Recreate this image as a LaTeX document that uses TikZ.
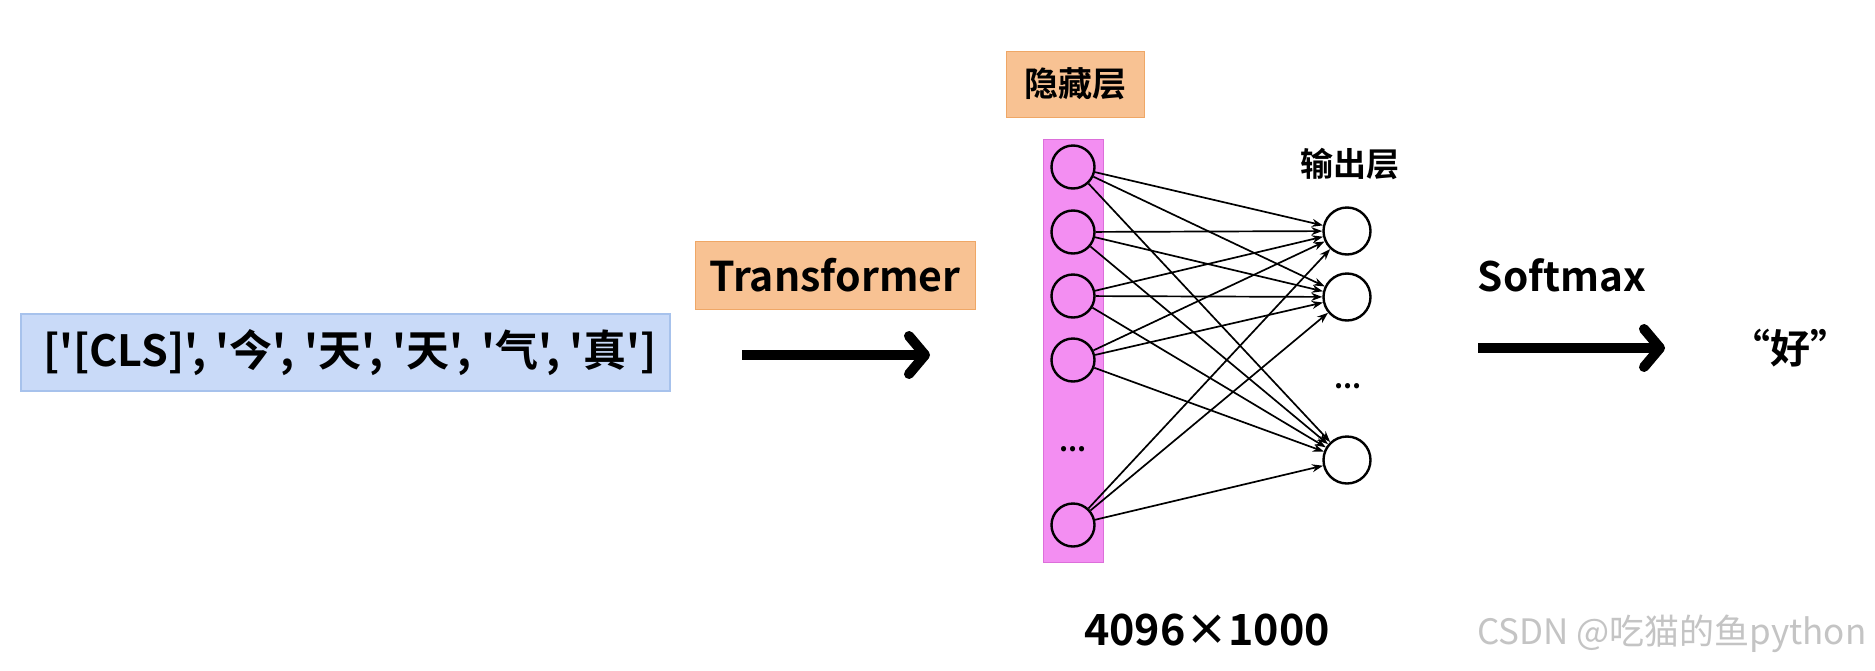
\documentclass[tikz,border=0pt]{standalone}
\usepackage{fontspec}
\defaultfontfeatures{}
\setmainfont{Noto Sans CJK SC}[Ligatures=TeXOff,BoldFont={Noto Sans CJK SC Bold},BoldFeatures={Ligatures=TeXOff}]
\usetikzlibrary{arrows.meta}
\definecolor{boxblue}{HTML}{C9DAF8}
\definecolor{boxblueline}{HTML}{A7C2EC}
\definecolor{boxorange}{HTML}{F8C293}
\definecolor{boxorangeline}{HTML}{EFA766}
\definecolor{hidpink}{HTML}{F38EF2}
\definecolor{hidpinkline}{HTML}{DC6FDA}
\definecolor{wmgray}{HTML}{C4C4C4}
\tikzset{
  fs/.style={font=\fontsize{#1}{#1}\selectfont\bfseries},
  labelbox/.style={draw=boxorangeline, line width=1pt, fill=boxorange, inner sep=0pt},
  hid/.style={circle, draw=black, line width=2.4pt, fill=hidpink, minimum size=43pt, inner sep=0pt},
  outn/.style={circle, draw=black, line width=2.4pt, fill=white, minimum size=47pt, inner sep=0pt},
  conn/.style={line width=1.7pt, -{Stealth[length=11pt,width=8pt]}},
  bigarrow/.style={line width=10pt, -{Straight Barb[length=16pt,width=38pt,line cap=round,line join=round]}},
}
\begin{document}
\begin{tikzpicture}[x=1pt,y=-1pt]
\useasboundingbox[fill=white] (0,0) rectangle (1875,670);
% input box
\node[draw=boxblueline, line width=1.2pt, fill=boxblue, minimum width=649pt, minimum height=77pt, inner sep=0pt] (inp) at (345.5,352.5) {};
\node[fs=43] (inptext) at (350,353) {['[CLS]', '今', '天', '天', '气', '真']};
% transformer
\node[labelbox, minimum width=280pt, minimum height=68pt, fs=41] (tr) at (835,275) {Transformer};
\coordinate (a1s) at (742,355);
\coordinate (a1e) at (930,355);
\draw[bigarrow] (a1s) -- (a1e);
% hidden layer label
\node[labelbox, minimum width=138pt, minimum height=66pt, fs=34] (hl) at (1075,84) {隐藏层};
% hidden column
\node[draw=hidpinkline, line width=1pt, fill=hidpink, minimum width=60pt, minimum height=423pt, inner sep=0pt] (col) at (1073,351) {};
\node[hid] (h1) at (1073,167) {};
\node[hid] (h2) at (1073,232) {};
\node[hid] (h3) at (1073,296) {};
\node[hid] (h4) at (1073,360) {};
\node[hid] (h5) at (1073,525) {};
\node[fs=28] (hd) at (1073,449) {...};
% output layer
\node[fs=33] (ol) at (1350,164) {输出层};
\node[outn] (o1) at (1347,231) {};
\node[outn] (o2) at (1347,297) {};
\node[outn] (o3) at (1347,460) {};
\node[fs=28] (od) at (1348,386) {...};
\foreach \i in {1,2,3,4,5}{
  \foreach \j in {1,2,3}{
    \draw[conn] (h\i) -- (o\j);
  }
}
% softmax
\node[fs=40.5] (sm) at (1562,275) {Softmax};
\coordinate (a2s) at (1478,348);
\coordinate (a2e) at (1665,348);
\draw[bigarrow] (a2s) -- (a2e);
\node[fs=40] (res) at (1790,348) {“好”};
% dims
\node[fs=43] (dim) at (1207,630) {4096×1000};
% watermark
\node[font=\fontsize{35}{35}\selectfont, text=wmgray, anchor=east] (wm) at (1870,634) {CSDN @吃猫的鱼python};
\end{tikzpicture}
\end{document}
